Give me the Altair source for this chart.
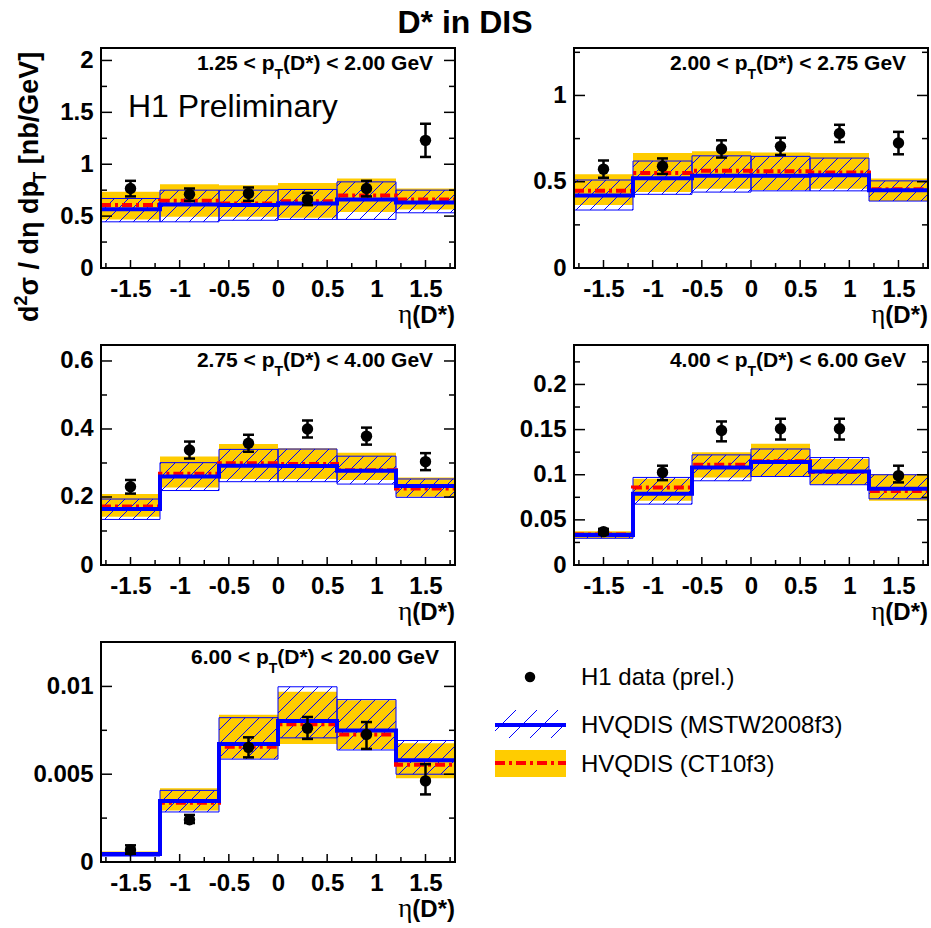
import altair as alt
import numpy as np
import pandas as pd

# ---------------- data ----------------
eta_edges = [-1.8, -1.2, -0.6, 0.0, 0.6, 1.2, 1.8]
eta_centers = [-1.5, -0.9, -0.3, 0.3, 0.9, 1.5]

pt_ranges = [("1.25", "2.00"), ("2.00", "2.75"), ("2.75", "4.00"),
             ("4.00", "6.00"), ("6.00", "20.00")]

h1_val = [
    [0.766, 0.71, 0.718, 0.66, 0.766, 1.23],
    [0.573, 0.59, 0.69, 0.705, 0.78, 0.724],
    [0.23, 0.338, 0.358, 0.40, 0.379, 0.304],
    [0.037, 0.1026, 0.149, 0.151, 0.151, 0.099],
    [0.00069, 0.00241, 0.00653, 0.00762, 0.00726, 0.00462],
]
h1_lo = [
    [0.69, 0.647, 0.647, 0.606, 0.69, 1.07],
    [0.523, 0.545, 0.64, 0.655, 0.73, 0.659],
    [0.21, 0.313, 0.333, 0.375, 0.354, 0.279],
    [0.034, 0.094, 0.137, 0.139, 0.139, 0.0915],
    [0.00047, 0.00222, 0.00596, 0.00701, 0.00644, 0.00385],
]
h1_hi = [
    [0.84, 0.766, 0.776, 0.724, 0.84, 1.39],
    [0.623, 0.635, 0.74, 0.755, 0.83, 0.789],
    [0.25, 0.363, 0.383, 0.425, 0.404, 0.329],
    [0.040, 0.110, 0.159, 0.162, 0.162, 0.110],
    [0.00095, 0.00268, 0.0071, 0.00826, 0.00797, 0.00557],
]

mstw_c = [
    [0.567, 0.612, 0.606, 0.622, 0.66, 0.632],
    [0.42, 0.52, 0.534, 0.534, 0.538, 0.45],
    [0.165, 0.26, 0.292, 0.291, 0.277, 0.232],
    [0.0333, 0.079, 0.108, 0.114, 0.1037, 0.0844],
    [0.00046, 0.00347, 0.00672, 0.00803, 0.00749, 0.0058],
]
mstw_lo = [
    [0.445, 0.445, 0.46, 0.468, 0.468, 0.532],
    [0.336, 0.427, 0.44, 0.447, 0.447, 0.388],
    [0.134, 0.219, 0.245, 0.245, 0.238, 0.199],
    [0.0296, 0.0674, 0.0933, 0.098, 0.0889, 0.0733],
    [0.00034, 0.00285, 0.00586, 0.00707, 0.00638, 0.005],
]
mstw_hi = [
    [0.67, 0.75, 0.75, 0.757, 0.83, 0.75],
    [0.51, 0.62, 0.65, 0.647, 0.637, 0.505],
    [0.194, 0.301, 0.34, 0.341, 0.32, 0.253],
    [0.0352, 0.097, 0.122, 0.1285, 0.119, 0.1],
    [0.00054, 0.00408, 0.00822, 0.00998, 0.00925, 0.00692],
]

ct10_c = [
    [0.606, 0.647, 0.622, 0.644, 0.699, 0.66],
    [0.447, 0.55, 0.563, 0.56, 0.553, 0.456],
    [0.172, 0.268, 0.299, 0.297, 0.279, 0.225],
    [0.0337, 0.0859, 0.111, 0.115, 0.103, 0.082],
    [0.00046, 0.00337, 0.00657, 0.00784, 0.00726, 0.00554],
]
ct10_lo = [
    [0.468, 0.494, 0.494, 0.484, 0.54, 0.564],
    [0.365, 0.44, 0.46, 0.452, 0.46, 0.388],
    [0.142, 0.228, 0.253, 0.253, 0.25, 0.201],
    [0.0296, 0.0711, 0.097, 0.098, 0.0889, 0.0711],
    [0.00036, 0.00293, 0.0059, 0.00672, 0.00644, 0.00477],
]
ct10_hi = [
    [0.734, 0.807, 0.798, 0.82, 0.862, 0.766],
    [0.544, 0.666, 0.676, 0.67, 0.666, 0.518],
    [0.209, 0.319, 0.356, 0.343, 0.33, 0.257],
    [0.0374, 0.0956, 0.125, 0.1344, 0.1174, 0.1007],
    [0.0006, 0.0042, 0.00839, 0.00969, 0.00921, 0.00676],
]

y_max = [2.12, 1.275, 0.647, 0.2437, 0.01253]
y_major = [[0, 0.5, 1, 1.5, 2], [0, 0.5, 1], [0, 0.2, 0.4, 0.6],
           [0, 0.05, 0.1, 0.15, 0.2], [0, 0.005, 0.01]]
y_minor = [[0.25, 0.75, 1.25, 1.75], [0.25, 0.75, 1.25], [0.1, 0.3, 0.5],
           [0.025, 0.075, 0.125, 0.175, 0.225], [0.0025, 0.0075]]
x_major = [-1.5, -1, -0.5, 0, 0.5, 1, 1.5]
x_minor = [-1.75, -1.25, -0.75, -0.25, 0.25, 0.75, 1.25, 1.75]

legend_labels = ["H1 data (prel.)", "HVQDIS (MSTW2008f3)", "HVQDIS (CT10f3)"]

# ---------------- styling / layout ----------------
W, H = 354, 220
XMIN, XMAX = -1.8, 1.8
YELLOW = "#FFCC00"
BLUE = "#0000FF"
RED = "#FF0000"
FONT = "Liberation Sans"
HATCH = 14.0

BOLD_W = {' ': 278, '(': 333, ')': 333, '*': 389, '.': 278, '/': 278, '<': 584,
          'D': 722, 'G': 778, 'T': 611, 'V': 667, '[': 333, ']': 333, 'b': 611,
          'd': 611, 'e': 556, 'n': 611, 'p': 611, 'σ': 617, 'η': 611}


def wb(s, size):
    return sum(BOLD_W.get(c, 556) for c in s) * size / 1000.0


ONE = pd.DataFrame({"a": [0]})


def txt(s, x, y, size, weight="bold", align="left", angle=0, font=FONT):
    return alt.Chart(ONE).mark_text(
        text=s, fontSize=size, fontWeight=weight, align=align, baseline="alphabetic",
        angle=angle, font=font, color="black"
    ).encode(x=alt.value(x), y=alt.value(y))


def hatch_rows(x0s, x1s, y0s, y1s, ymax, s=HATCH):
    kx = W / (XMAX - XMIN)
    ky = H / ymax
    rows = []
    for x0, x1, y0, y1 in zip(x0s, x1s, y0s, y1s):
        px0, px1 = (x0 - XMIN) * kx, (x1 - XMIN) * kx
        pu0, pu1 = y0 * ky, y1 * ky
        n0 = int(np.floor((pu0 - px1) / s)) - 1
        n1 = int(np.ceil((pu1 - px0) / s)) + 1
        for n in range(n0, n1 + 1):
            c = n * s
            a = max(px0, pu0 - c)
            b = min(px1, pu1 - c)
            if b - a > 0.3:
                rows.append({"x": a / kx + XMIN, "y": (a + c) / ky,
                             "x2": b / kx + XMIN, "y2": (b + c) / ky})
    return pd.DataFrame(rows)


def panel(i):
    ymax = y_max[i]
    xs = alt.Scale(domain=[XMIN, XMAX], nice=False, zero=False)
    ys = alt.Scale(domain=[0, ymax], nice=False, zero=False)
    xaxis = alt.Axis(values=x_major, labelExpr="toString(datum.value)", title=None)
    yaxis = alt.Axis(values=y_major[i], labelExpr="toString(datum.value)", title=None)
    X = alt.X("x:Q", scale=xs, axis=xaxis)
    Y = alt.Y("y:Q", scale=ys, axis=yaxis)

    ct_box = pd.DataFrame({"x": eta_edges[:-1], "x2": eta_edges[1:],
                           "y": ct10_lo[i], "y2": ct10_hi[i]})
    mw_box = pd.DataFrame({"x": eta_edges[:-1], "x2": eta_edges[1:],
                           "y": mstw_lo[i], "y2": mstw_hi[i]})
    hatch = hatch_rows(eta_edges[:-1], eta_edges[1:], mstw_lo[i], mstw_hi[i], ymax)
    ct_line = pd.DataFrame({"x": eta_edges, "y": ct10_c[i] + [ct10_c[i][-1]]})
    mw_line = pd.DataFrame({"x": eta_edges, "y": mstw_c[i] + [mstw_c[i][-1]]})
    pts = pd.DataFrame({"x": eta_centers, "y": h1_val[i], "lo": h1_lo[i], "hi": h1_hi[i]})
    caps = pd.DataFrame({"x": eta_centers * 2, "y": h1_lo[i] + h1_hi[i]})

    layers = [
        alt.Chart(ct_box).mark_rect(fill=YELLOW, strokeWidth=0).encode(
            x=X, x2="x2:Q", y=Y, y2="y2:Q"),
        alt.Chart(hatch).mark_rule(color=BLUE, strokeWidth=1).encode(
            x=X, x2="x2:Q", y=Y, y2="y2:Q"),
        alt.Chart(mw_box).mark_rect(fillOpacity=0, stroke=BLUE, strokeWidth=1).encode(
            x=X, x2="x2:Q", y=Y, y2="y2:Q"),
        alt.Chart(ct_line).mark_line(interpolate="step-after", color=RED, strokeWidth=4,
                                     strokeDash=[10, 4, 3, 4]).encode(x=X, y=Y),
        alt.Chart(mw_line).mark_line(interpolate="step-after", color=BLUE,
                                     strokeWidth=4).encode(x=X, y=Y),
        alt.Chart(pts).mark_rule(color="black", strokeWidth=2.5).encode(
            x=X, y=alt.Y("lo:Q", scale=ys, axis=yaxis), y2="hi:Q"),
        alt.Chart(caps).mark_tick(orient="horizontal", size=11, thickness=2.5,
                                  color="black", opacity=1).encode(x=X, y=Y),
        alt.Chart(pts).mark_circle(size=130, color="black", opacity=1).encode(x=X, y=Y),
        # axis ticks (inside the frame, as in the original)
        alt.Chart(pd.DataFrame({"x": x_major})).mark_rule(color="black", strokeWidth=1.5).encode(
            x=X, y=alt.value(H), y2=alt.value(H - 8)),
        alt.Chart(pd.DataFrame({"x": x_minor})).mark_rule(color="black", strokeWidth=1.5).encode(
            x=X, y=alt.value(H), y2=alt.value(H - 5)),
        alt.Chart(pd.DataFrame({"y": y_major[i]})).mark_rule(color="black", strokeWidth=1.5).encode(
            y=Y, x=alt.value(0), x2=alt.value(11)),
        alt.Chart(pd.DataFrame({"y": y_minor[i]})).mark_rule(color="black", strokeWidth=1.5).encode(
            y=Y, x=alt.value(0), x2=alt.value(6)),
        alt.Chart(pd.DataFrame({"y": y_major[i]})).mark_rule(color="black", strokeWidth=1.5).encode(
            y=Y, x=alt.value(W), x2=alt.value(W - 11)),
        alt.Chart(pd.DataFrame({"y": y_minor[i]})).mark_rule(color="black", strokeWidth=1.5).encode(
            y=Y, x=alt.value(W), x2=alt.value(W - 6)),
        # frame
        alt.Chart(ONE).mark_rect(fillOpacity=0, stroke="black", strokeWidth=2).encode(
            x=alt.value(0), x2=alt.value(W), y=alt.value(0), y2=alt.value(H)),
    ]

    # p_T range label
    lo, hi = pt_ranges[i]
    left = f"{lo} < p"
    right = f"(D*) < {hi} GeV"
    F, Fs = 21, 14
    total = wb(left, F) + wb("T", Fs) + wb(right, F)
    x0 = 214 - total / 2
    layers += [
        txt(left, x0, 22, F),
        txt("T", x0 + wb(left, F), 31, Fs),
        txt(right, x0 + wb(left, F) + wb("T", Fs), 22, F),
    ]
    # x-axis title  η(D*)
    wdx = wb("(D*)", 24)
    layers += [
        txt("(D*)", W, H + 55, 24, align="right"),
        txt("η", W - wdx, H + 55, 27, weight="normal", align="right", font="Liberation Serif"),
    ]

    if i == 0:
        layers.append(txt("H1 Preliminary", 27, 69, 32, weight="normal"))
        layers.append(txt("D* in DIS", 364, -15, 32, align="center"))
        # y-axis title, rotated, reading upwards
        Fy, Fys = 27, 18
        bx = -63
        y0 = 274
        cum = 0.0
        layers.append(txt("d", bx, y0 - cum, Fy, angle=270)); cum += wb("d", Fy)
        layers.append(txt("2", bx - 11, y0 - cum, Fys, angle=270)); cum += wb("2", Fys)
        mid = "σ / dη dp"
        layers.append(txt(mid, bx, y0 - cum, Fy, angle=270)); cum += wb(mid, Fy)
        layers.append(txt("T", bx + 8, y0 - cum, Fys, angle=270)); cum += wb("T", Fys)
        cum += wb(" ", Fy)
        layers.append(txt("[nb/GeV]", bx, y0 - cum, Fy, angle=270))
        # invisible anchor that fixes the page offset of the whole figure
        layers.append(alt.Chart(ONE).mark_rule(strokeOpacity=0, strokeWidth=1).encode(
            x=alt.value(-95.5), x2=alt.value(-94.5), y=alt.value(-42.5), y2=alt.value(-42.5)))

    return alt.layer(*layers).properties(width=W, height=H)


def legend_panel():
    xs = alt.Scale(domain=[0, W], nice=False, zero=False)
    ys = alt.Scale(domain=[0, H], nice=False, zero=False, reverse=True)
    X = alt.X("x:Q", scale=xs, axis=None)
    Y = alt.Y("y:Q", scale=ys, axis=None)
    # hatch for the MSTW symbol (pixel coordinates of the legend cell)
    bx0, bx1, by0, by1, s = -79, -8, 68, 96, 21
    rows = []
    for n in range(-2, 8):
        c = -11 + n * s
        a = max(bx0, c - by1)
        b = min(bx1, c - by0)
        if b - a > 0.3:
            rows.append({"x": a, "y": c - a, "x2": b, "y2": c - b})
    hatch = pd.DataFrame(rows)
    layers = [
        alt.Chart(pd.DataFrame({"x": [-44], "y": [35]})).mark_circle(
            size=110, color="black", opacity=1).encode(x=X, y=Y),
        alt.Chart(hatch).mark_rule(color=BLUE, strokeWidth=1).encode(
            x=X, x2="x2:Q", y=Y, y2="y2:Q"),
        alt.Chart(pd.DataFrame({"x": [-79], "x2": [-8], "y": [83]})).mark_rule(
            color=BLUE, strokeWidth=4).encode(x=X, x2="x2:Q", y=Y),
        alt.Chart(pd.DataFrame({"x": [-79], "x2": [-8], "y": [108], "y2": [135]})).mark_rect(
            fill=YELLOW, strokeWidth=0).encode(x=X, x2="x2:Q", y=Y, y2="y2:Q"),
        alt.Chart(pd.DataFrame({"x": [-79], "x2": [-8], "y": [121]})).mark_rule(
            color=RED, strokeWidth=4, strokeDash=[10, 4, 3, 4]).encode(x=X, x2="x2:Q", y=Y),
        txt(legend_labels[0], 7, 43, 24, weight="normal"),
        txt(legend_labels[1], 7, 91, 24, weight="normal"),
        txt(legend_labels[2], 7, 130, 24, weight="normal"),
    ]
    return alt.layer(*layers).properties(width=W, height=H)


chart = alt.concat(
    panel(0), panel(1), panel(2), panel(3), panel(4), legend_panel(),
    columns=2, spacing={"row": 77, "column": 119}, bounds="flush",
).properties(
    padding={"left": 5, "top": 5, "right": -6, "bottom": 0}
).configure(
    font=FONT
).configure_view(
    stroke="transparent"
).configure_axis(
    grid=False, ticks=False, tickSize=0, domain=False,
    labelFont=FONT, labelFontSize=24, labelFontWeight="bold", labelColor="black",
    labelOverlap=False, labelFlush=False,
).configure_axisX(
    labelPadding=9
).configure_axisY(
    labelPadding=8
)

chart.save("out.html", embed_options={"renderer": "svg", "actions": False})
